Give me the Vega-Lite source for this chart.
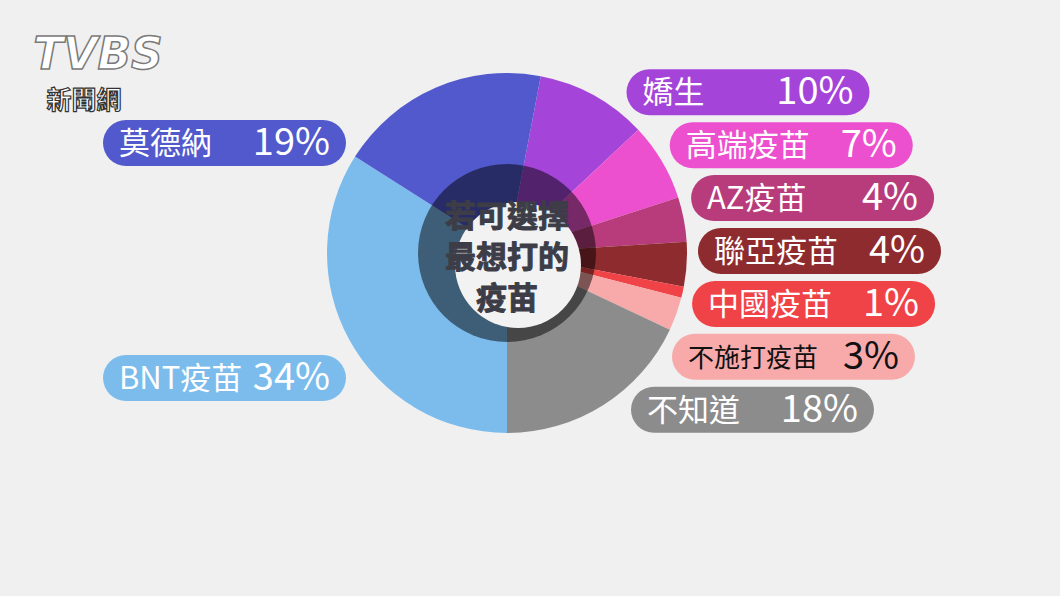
{
  "$schema": "https://vega.github.io/schema/vega-lite/v6.json",
  "width": 1014,
  "height": 506,
  "autosize": "none",
  "padding": {"left": 0, "top": 0, "right": 46, "bottom": 90},
  "background": "#f0f0f0",
  "config": {"view": {"stroke": null}, "font": "Noto Sans CJK TC"},
  "data": {
    "values": [
      {"category": "嬌生", "pct": 10, "order": 0},
      {"category": "高端疫苗", "pct": 7, "order": 1},
      {"category": "AZ疫苗", "pct": 4, "order": 2},
      {"category": "聯亞疫苗", "pct": 4, "order": 3},
      {"category": "中國疫苗", "pct": 1, "order": 4},
      {"category": "不施打疫苗", "pct": 3, "order": 5},
      {"category": "不知道", "pct": 18, "order": 6},
      {"category": "BNT疫苗", "pct": 34, "order": 7},
      {"category": "莫德納", "pct": 19, "order": 8}
    ]
  },
  "layer": [
    {
      "mark": {"type": "arc", "outerRadius": 180},
      "encoding": {
        "theta": {"field": "pct", "type": "quantitative", "stack": true, "scale": {"range": [0.1885, 6.4717]}},
        "color": {
          "field": "category", "type": "nominal", "legend": null,
          "scale": {
            "domain": ["嬌生", "高端疫苗", "AZ疫苗", "聯亞疫苗", "中國疫苗", "不施打疫苗", "不知道", "BNT疫苗", "莫德納"],
            "range": ["#a544d9", "#ec50cf", "#b83c7c", "#8e2b2f", "#f04347", "#f8a9a9", "#8c8c8c", "#7bbced", "#5159cc"]
          }
        },
        "order": {"field": "order", "type": "quantitative"}
      }
    },
    {
      "data": {"values": [{}]},
      "mark": {"type": "arc", "theta": 0, "theta2": 6.2832, "outerRadius": 89, "fill": "#000000", "opacity": 0.5},
      "encoding": {}
    },
    {
      "data": {"values": [{}]},
      "mark": {"type": "arc", "theta": 0, "theta2": 6.2832, "outerRadius": 63, "fill": "#f2f2f2", "xOffset": 11, "yOffset": 12},
      "encoding": {}
    },
    {
      "data": {"values": [{}]},
      "mark": {"type": "text", "text": ["若可選擇", "最想打的", "疫苗"], "lineHeight": 41, "align": "center", "baseline": "middle", "dy": -35, "fontSize": 31, "fontWeight": "bold", "fill": "#3d3d48", "stroke": "#3d3d48", "strokeWidth": 1, "strokeJoin": "round"},
      "encoding": {}
    },
    {
      "transform": [
        {"calculate": "datum.order <= 6 ? 251 + (datum.order - 3) * 52.9 : (datum.order == 8 ? 143 : 378)", "as": "ly"},
        {"calculate": "datum.order <= 6 ? 507 + 191 * sqrt(max(0, 1 - pow((datum.ly - 253) / 206, 2))) : 103", "as": "lx"},
        {"calculate": "datum.lx + 23", "as": "x1"},
        {"calculate": "datum.lx + 220", "as": "x2"},
        {"calculate": "datum.lx + 16", "as": "tx1"},
        {"calculate": "datum.lx + 227", "as": "tx2"},
        {"calculate": "datum.pct + '%'", "as": "label"}
      ],
      "encoding": {
        "y": {"field": "ly", "type": "quantitative", "axis": null, "scale": {"domain": [0, 506], "reverse": true, "nice": false, "zero": false}}
      },
      "layer": [
        {
          "mark": {"type": "rule", "strokeWidth": 46, "strokeCap": "round"},
          "encoding": {
            "x": {"field": "x1", "type": "quantitative", "axis": null, "scale": {"domain": [0, 1014], "nice": false, "zero": false}},
            "x2": {"field": "x2"},
            "color": {"field": "category", "type": "nominal", "legend": null}
          }
        },
        {
          "mark": {"type": "text", "align": "left", "baseline": "middle", "dy": 2},
          "encoding": {
            "x": {"field": "tx1", "type": "quantitative", "axis": null, "scale": {"domain": [0, 1014], "nice": false, "zero": false}},
            "text": {"field": "category"},
            "size": {"condition": {"test": "datum.category === '不施打疫苗'", "value": 26}, "value": 31},
            "color": {"condition": {"test": "datum.category === '不施打疫苗'", "value": "#111111"}, "value": "#ffffff"}
          }
        },
        {
          "mark": {"type": "text", "align": "right", "baseline": "middle", "fontSize": 38, "dy": 1},
          "encoding": {
            "x": {"field": "tx2", "type": "quantitative", "axis": null, "scale": {"domain": [0, 1014], "nice": false, "zero": false}},
            "text": {"field": "label"},
            "color": {"condition": {"test": "datum.category === '不施打疫苗'", "value": "#111111"}, "value": "#ffffff"}
          }
        }
      ]
    },
    {
      "data": {"values": [{}]},
      "mark": {"type": "text", "text": "TVBS", "x": 98, "y": 56, "align": "center", "baseline": "middle", "font": "DejaVu Sans", "fontSize": 44, "fontStyle": "italic", "fontWeight": "bold", "fill": "#ffffff", "stroke": "#7a7a7a", "strokeWidth": 1.5},
      "encoding": {}
    },
    {
      "data": {"values": [{}]},
      "mark": {"type": "text", "text": "新聞網", "x": 84, "y": 101, "align": "center", "baseline": "middle", "fontSize": 25, "fontWeight": "bold", "fill": "#ffffff", "stroke": "#333333", "strokeWidth": 1.2},
      "encoding": {}
    }
  ]
}
